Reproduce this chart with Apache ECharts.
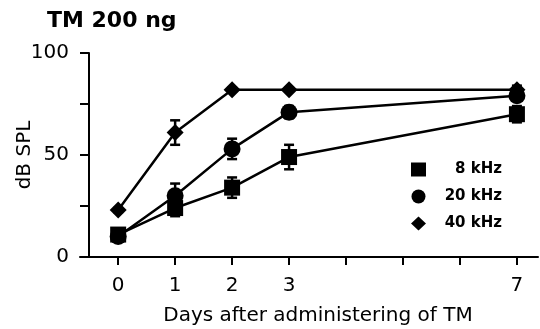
<!DOCTYPE html>
<html>
<head>
<meta charset="utf-8">
<script src="https://cdn.jsdelivr.net/npm/echarts@6/dist/echarts.min.js"></script>
<style>
    html,body{margin:0;padding:0;background:#fff;}
    #chart{width:540px;height:329px;}
</style>
</head>
<body>
<div id="chart"></div>
<script>
    // days after TM, thresholds (dB SPL) and SEM
    var days = [0, 1, 2, 3, 7];
    var khz8 = [11, 24, 34, 49, 70];
    var err8 = [2, 4, 5, 6, 4];
    var khz20 = [10, 30, 53, 71, 79];
    var err20 = [2, 6, 5, 3, 2];
    var khz40 = [23, 61, 82, 82, 82];
    var err40 = [1, 6, 1, 1, 2];
    var seriesNames = ['8 kHz', '20 kHz', '40 kHz'];
    var xTicks = [0, 1, 2, 3, 4, 5, 6, 7];
    var xLabels = [0, 1, 2, 3, 7];

    var font = 'DejaVu Sans';
    var ink = '#000';

    function pts(vals) {
        return days.map(function (d, i) { return [d, vals[i]]; });
    }
    function bars(vals, errs) {
        return days.map(function (d, i) { return [d, vals[i] - errs[i], vals[i] + errs[i]]; });
    }
    function errRender(params, api) {
        var lo = api.coord([api.value(0), api.value(1)]);
        var hi = api.coord([api.value(0), api.value(2)]);
        var w = 5;
        var st = {stroke: ink, lineWidth: 2.5};
        return {
            type: 'group',
            children: [
                {type: 'line', shape: {x1: lo[0], y1: lo[1], x2: hi[0], y2: hi[1]}, style: st},
                {type: 'line', shape: {x1: lo[0] - w, y1: lo[1], x2: lo[0] + w, y2: lo[1]}, style: st},
                {type: 'line', shape: {x1: hi[0] - w, y1: hi[1], x2: hi[0] + w, y2: hi[1]}, style: st}
            ]
        };
    }
    function lineSeries(name, vals, symbol, size) {
        return {
            name: name, type: 'line', data: pts(vals),
            symbol: symbol, symbolSize: size,
            lineStyle: {color: ink, width: 2.5},
            itemStyle: {color: ink},
            z: 3, animation: false
        };
    }
    function errSeries(vals, errs) {
        return {type: 'custom', data: bars(vals, errs), renderItem: errRender, z: 2, silent: true, animation: false};
    }

    var chart = echarts.init(document.getElementById('chart'));
    chart.setOption({
        animation: false,
        title: {
            text: 'TM 200 ng', left: 42, top: 5,
            textStyle: {fontFamily: font, fontSize: 22, fontWeight: 'bold', color: ink}
        },
        legend: {
            orient: 'vertical', left: 406, top: 157,
            itemWidth: 15, itemHeight: 14, itemGap: 12,
            data: [
                {name: seriesNames[0], icon: 'rect'},
                {name: seriesNames[1], icon: 'circle'},
                {name: seriesNames[2], icon: 'diamond'}
            ],
            formatter: '{a|{name}}',
            textStyle: {
                fontFamily: font, fontSize: 15, fontWeight: 'bold', color: ink,
                rich: {a: {width: 71, align: 'right', fontFamily: font, fontSize: 15, fontWeight: 'bold', color: ink}}
            }
        },
        grid: {left: 80, right: 2, top: 53, bottom: 72, outerBoundsMode: 'none', containLabel: false},
        xAxis: {
            type: 'value', min: -0.67, max: 7.37,
            name: 'Days after administering of TM', nameLocation: 'middle', nameGap: 49,
            nameMoveOverlap: false,
            nameTextStyle: {fontFamily: font, fontSize: 20, color: ink, padding: [0, 0, 0, 18]},
            axisLine: {onZero: false, lineStyle: {color: ink, width: 2}},
            axisTick: {show: true, inside: false, length: 8, lineStyle: {color: ink, width: 2}, customValues: xTicks},
            axisLabel: {fontFamily: font, fontSize: 20, color: ink, margin: 19, customValues: xLabels},
            splitLine: {show: false}
        },
        yAxis: {
            type: 'value', min: 0, max: 100, interval: 25, offset: -9,
            name: 'dB SPL', nameLocation: 'middle', nameGap: 54,
            nameMoveOverlap: false,
            nameTextStyle: {fontFamily: font, fontSize: 20, color: ink},
            axisLine: {show: true, onZero: false, lineStyle: {color: ink, width: 2}},
            axisTick: {show: true, inside: false, length: 9, lineStyle: {color: ink, width: 2}},
            axisLabel: {
                fontFamily: font, fontSize: 20, color: ink, margin: 20,
                formatter: function (v) { return v % 50 === 0 ? String(v) : ''; }
            },
            splitLine: {show: false}
        },
        series: [
            errSeries(khz40, err40),
            errSeries(khz20, err20),
            errSeries(khz8, err8),
            lineSeries(seriesNames[2], khz40, 'diamond', 17),
            lineSeries(seriesNames[1], khz20, 'circle', 17),
            lineSeries(seriesNames[0], khz8, 'rect', 16)
        ]
    });
</script>
</body>
</html>
